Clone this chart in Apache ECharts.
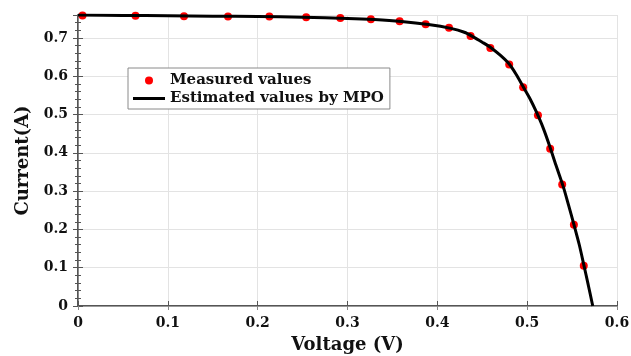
<!DOCTYPE html>
<html>
<head>
<meta charset="utf-8">
<script src="https://cdn.jsdelivr.net/npm/echarts@6/dist/echarts.min.js"></script>
<style>
html,body{margin:0;padding:0;background:#fff;}
#c{width:631px;height:356px;}
</style>
</head>
<body>
<div id="c"></div>
<script>
// Measured values (voltage V, current A)
const measuredV = [0.005, 0.064, 0.118, 0.167, 0.213, 0.254, 0.292, 0.326, 0.358, 0.387, 0.413, 0.437, 0.459, 0.480, 0.4955, 0.512, 0.5256, 0.539, 0.552, 0.563];
const measuredI = [0.759, 0.758, 0.757, 0.756, 0.756, 0.754, 0.752, 0.749, 0.744, 0.736, 0.727, 0.705, 0.674, 0.631, 0.571, 0.498, 0.411, 0.317, 0.212, 0.105];
// Estimated curve
const estV = [0, 0.05, 0.1, 0.15, 0.2, 0.25, 0.3, 0.33, 0.36, 0.39, 0.415, 0.43, 0.44, 0.45, 0.46, 0.47, 0.48, 0.488, 0.495, 0.503, 0.51, 0.518, 0.525, 0.532, 0.54, 0.546, 0.552, 0.558, 0.563, 0.568, 0.573];
const estI = [0.760, 0.759, 0.758, 0.757, 0.756, 0.754, 0.751, 0.748, 0.743, 0.735, 0.725, 0.715, 0.703, 0.689, 0.674, 0.655, 0.632, 0.604, 0.575, 0.542, 0.508, 0.464, 0.418, 0.368, 0.313, 0.264, 0.213, 0.16, 0.108, 0.055, 0.0];
const xTicks = {min: 0, max: 0.6, interval: 0.1};
const yTicks = {min: 0, max: 0.76, interval: 0.1};

const font = 'DejaVu Serif';
const chart = echarts.init(document.getElementById('c'), null, {renderer: 'canvas'});
const axisCommonY = {
  type: 'value', min: yTicks.min, max: yTicks.max, interval: yTicks.interval,
  minorTick: {show: true, splitNumber: 5, length: 3, lineStyle: {color: '#555'}},
  axisTick: {show: true, inside: true, length: 5, lineStyle: {color: '#555'}},
  splitLine: {show: false}
};
chart.setOption({
  backgroundColor: '#fff',
  animation: false,
  grid: {left: 78, right: 14, top: 15, bottom: 50, show: false, containLabel: false, outerBoundsMode: 'none'},
  legend: {
    left: 128, top: 68, orient: 'vertical',
    backgroundColor: '#fff', borderColor: '#8a8a8a', borderWidth: 1,
    padding: [5, 6, 3, 5], itemGap: 3, itemWidth: 32, itemHeight: 8,
    symbolKeepAspect: true,
    textStyle: {fontFamily: font, fontWeight: 'bold', fontSize: 15, color: '#111'},
    data: [
      {name: 'Measured values', icon: 'circle', itemStyle: {color: '#ff0000', opacity: 1}},
      {name: 'Estimated values by MPO', icon: 'path://M0,0H32V3H0Z', itemStyle: {color: '#000'}}
    ]
  },
  xAxis: [{
    type: 'value', min: xTicks.min, max: xTicks.max, interval: xTicks.interval,
    name: 'Voltage (V)', nameLocation: 'middle', nameGap: 30,
    nameTextStyle: {fontFamily: font, fontWeight: 'bold', fontSize: 18, color: '#111'},
    axisLine: {show: true, lineStyle: {color: '#555', width: 2}},
    axisTick: {show: true, inside: true, length: 5, lineStyle: {color: '#555'}},
    axisLabel: {fontFamily: font, fontWeight: 'bold', fontSize: 14, color: '#111', margin: 10},
    splitLine: {show: true, lineStyle: {color: '#e3e3e3', width: 1}}
  }, {
    type: 'value', position: 'top', min: xTicks.min, max: xTicks.max, interval: xTicks.interval,
    axisLine: {show: true, lineStyle: {color: '#9a9a9a', width: 1}},
    axisTick: {show: true, inside: true, length: 4, lineStyle: {color: '#888'}},
    axisLabel: {show: false}, splitLine: {show: false}
  }],
  yAxis: [Object.assign({}, axisCommonY, {
    name: 'Current(A)', nameLocation: 'middle', nameGap: 46,
    nameTextStyle: {fontFamily: font, fontWeight: 'bold', fontSize: 18, color: '#111'},
    axisLine: {show: true, lineStyle: {color: '#555', width: 2}},
    axisLabel: {fontFamily: font, fontWeight: 'bold', fontSize: 14, color: '#111', margin: 10, showMaxLabel: false},
    splitLine: {show: true, lineStyle: {color: '#e3e3e3', width: 1}}
  }), Object.assign({}, axisCommonY, {
    position: 'right',
    axisLine: {show: true, lineStyle: {color: '#8a8a8a', width: 1}},
    axisLabel: {show: false}
  })],
  series: [{
    name: 'Measured values', type: 'scatter', symbol: 'circle', symbolSize: 8,
    itemStyle: {color: '#ff0000', opacity: 1}, z: 2,
    data: measuredV.map((v, i) => [v, measuredI[i]])
  }, {
    name: 'Estimated values by MPO', type: 'line', showSymbol: false, symbol: 'none',
    smooth: 0.3, z: 3,
    lineStyle: {color: '#000', width: 3}, itemStyle: {color: '#000'},
    data: estV.map((v, i) => [v, estI[i]])
  }]
});
</script>
</body>
</html>
